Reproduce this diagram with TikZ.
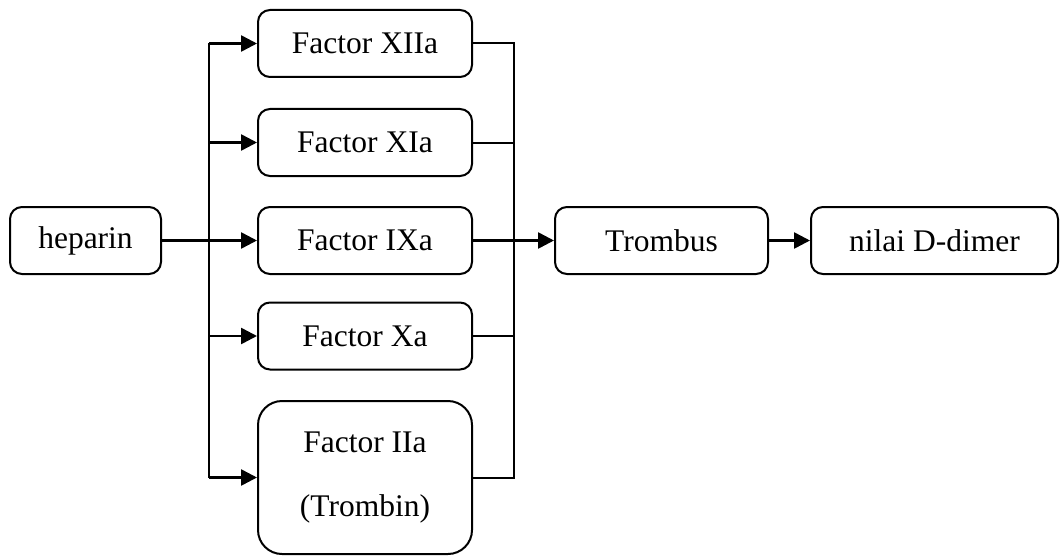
\documentclass[tikz,border=0pt]{standalone}
\usepackage{fontspec}
\setmainfont{Liberation Serif}
\usetikzlibrary{arrows.meta}
\begin{document}
\begin{tikzpicture}[x=0.5pt,y=-0.5pt,
  box/.style={draw, line width=1pt, rounded corners=6pt, inner sep=0pt,
    font=\fontsize{15.75}{19}\selectfont, minimum height=33.5pt, align=center},
  fbox/.style={box, minimum width=107pt},
  arr/.style={line width=1.3pt, -{Triangle[length=8pt,width=8pt]}},
  ln/.style={line width=1pt}]
\useasboundingbox (0,0) rectangle (1064,556);
\node[box, minimum width=75.5pt] (hep) at (85.5,240.5) {heparin};
\node[fbox] (f12) at (365,43.5) {Factor XIIa};
\node[fbox] (f11) at (365,142.5) {Factor XIa};
\node[fbox] (f9) at (365,240.5) {Factor IXa};
\node[fbox] (f10) at (365,336) {Factor Xa};
\node[fbox, minimum height=76.5pt, rounded corners=12pt,
  font=\fontsize{15.75}{32}\selectfont] (f2) at (365,477.5) {Factor IIa\\(Trombin)\\[-29pt]\mbox{}};
\node[box, minimum width=106.5pt] (tr) at (661.5,240.5) {Trombus};
\node[box, minimum width=123.5pt] (dd) at (934.5,240.5) {nilai D-dimer};
\coordinate (lb) at (209,0);
\coordinate (rb) at (514,0);
% left bus
\draw[ln, line width=1.3pt] (f12.west -| lb) -- (f2.west -| lb);
\draw[arr] (hep.east) -- (f9.west);
\draw[arr] (f12.west -| lb) -- (f12.west);
\draw[arr] (f11.west -| lb) -- (f11.west);
\draw[arr] (f10.west -| lb) -- (f10.west);
\draw[arr] (f2.west -| lb) -- (f2.west);
% right bus
\draw[ln] (f12.east) -- (f12.east -| rb) -- (f2.east -| rb) -- (f2.east);
\draw[ln] (f11.east) -- (f11.east -| rb);
\draw[ln] (f10.east) -- (f10.east -| rb);
\draw[arr] (f9.east) -- (tr.west);
\draw[arr] (tr.east) -- (dd.west);
\end{tikzpicture}
\end{document}
